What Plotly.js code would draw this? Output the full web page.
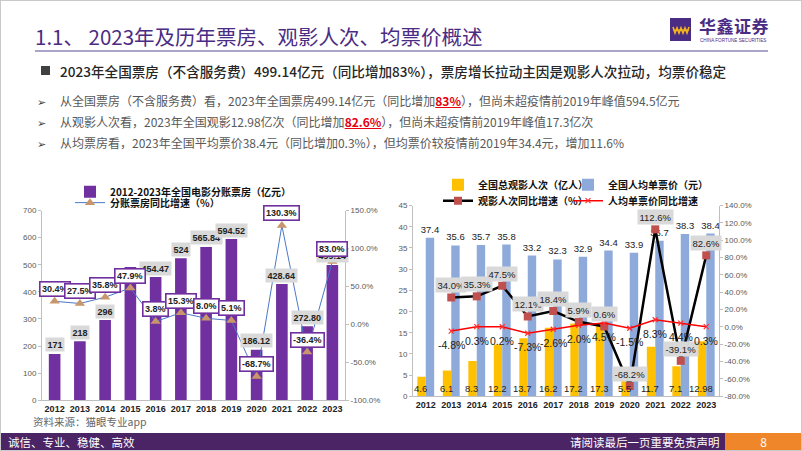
<!DOCTYPE html>
<html><head><meta charset="utf-8">
<script src="https://cdn.plot.ly/plotly-3.0.1.min.js"></script>
<style>
html,body{margin:0;padding:0;background:#fff;}
#page{position:relative;width:802px;height:451px;overflow:hidden;font-family:"Noto Sans CJK SC","Noto Sans",sans-serif;background:#fff;}
.abs{position:absolute;white-space:nowrap;}
#frame{position:absolute;left:0;top:0;width:800px;height:449px;border:1px solid #c9c9c9;pointer-events:none;z-index:5;}
#title{left:35px;top:22px;font-size:20.5px;line-height:28px;color:#4b2c84;}
#rule{left:35px;top:50px;width:733px;height:2px;background:#aaa5c8;}
#logoBox{left:670px;top:18px;width:21px;height:23px;background:#4b2c84;}
#logoCn{left:699px;top:16px;font-size:17px;line-height:20px;color:#4b2c84;font-weight:700;letter-spacing:0.5px;}
#logoEn{left:700px;top:38px;font-size:4.6px;line-height:5px;color:#4b2c84;font-family:"Liberation Sans",sans-serif;}
#b0{left:41px;top:66px;width:9px;height:9px;background:#404040;}
#main{left:60px;top:60px;font-size:13.6px;line-height:22px;color:#262626;font-weight:500;}
.sub{left:37px;font-size:12px;line-height:18px;color:#595959;}
.sub .ar{display:inline-block;width:23px;color:#404040;font-size:11px;}
.red{color:#e60012;font-weight:700;text-decoration:underline;}
#plot{position:absolute;left:0;top:170px;width:802px;height:250px;}
#src{left:33px;top:414px;font-size:10.5px;line-height:16px;color:#666;}
#foot{left:0;top:433px;width:725px;height:18px;background:#4a2464;}
#footL{left:8px;top:433px;font-size:11.5px;line-height:18px;color:#fff;}
#footR{left:570px;top:433px;font-size:11.5px;line-height:18px;color:#fff;}
#footO{left:725px;top:433px;width:77px;height:18px;background:#f0862a;color:#fff;font-size:12px;line-height:18px;text-align:center;}
</style></head>
<body><div id="page">
<div id="frame"></div>
<div class="abs" id="title">1.1、 2023年及历年票房、观影人次、均票价概述</div>
<div class="abs" id="rule"></div>
<div class="abs" id="logoBox"><svg width="21" height="23" viewBox="0 0 21 23"><polyline points="3,9 5,15 7,10 9,15 11,10 13,15 15,10 17,15 19,9" fill="none" stroke="#f5b51a" stroke-width="1.6"/><line x1="3" y1="12" x2="19" y2="12" stroke="#f5b51a" stroke-width="1"/></svg></div>
<div class="abs" id="logoCn">华鑫证券</div>
<div class="abs" id="logoEn">CHINA FORTUNE SECURITIES</div>
<div class="abs" id="b0"></div>
<div class="abs" id="main">2023年全国票房（不含服务费）499.14亿元（同比增加83%），票房增长拉动主因是观影人次拉动，均票价稳定</div>
<div class="abs sub" style="top:92px"><span class="ar">➢</span>从全国票房（不含服务费）看，2023年全国票房499.14亿元（同比增加<span class="red">83%</span>），但尚未超疫情前2019年峰值594.5亿元</div>
<div class="abs sub" style="top:113px"><span class="ar">➢</span>从观影人次看，2023年全国观影12.98亿次（同比增加<span class="red">82.6%</span>），但尚未超疫情前2019年峰值17.3亿次</div>
<div class="abs sub" style="top:134px"><span class="ar">➢</span>从均票房看，2023年全国平均票价38.4元（同比增加0.3%），但均票价较疫情前2019年34.4元，增加11.6%</div>
<div id="plot"></div>
<div class="abs" id="src">资料来源：猫眼专业app</div>
<div class="abs" id="foot"></div>
<div class="abs" id="footL">诚信、专业、稳健、高效</div>
<div class="abs" id="footR">请阅读最后一页重要免责声明</div>
<div class="abs" id="footO">8</div>
</div>
<script>
// ---------------- data ----------------
const years = ['2012','2013','2014','2015','2016','2017','2018','2019','2020','2021','2022','2023'];
// left chart
const boxOffice = [171, 218, 296, 492, 454.47, 524, 565.84, 594.52, 186.12, 428.64, 272.80, 499.14];
const boxOfficeLabels = ['171','218','296','','454.47','524','565.84','594.52','186.12','428.64','272.80','499.14'];
const boxOfficeYoY = [30.4, 27.5, 35.8, 47.9, 3.8, 15.3, 8.0, 5.1, -68.7, 130.3, -36.4, 83.0];
// right chart
const audience = [4.6, 6.1, 8.3, 12.2, 13.7, 16.2, 17.2, 17.3, 5.5, 11.7, 7.1, 12.98];
const audienceLabels = ['4.6','6.1','8.3','12.2','13.7','16.2','17.2','17.3','5.5','11.7','7.1','12.98'];
const avgPrice = [37.4, 35.6, 35.7, 35.8, 33.2, 32.3, 32.9, 34.4, 33.9, 36.7, 38.3, 38.4];
const audienceYoY = [null, 34.0, 35.3, 47.5, 12.1, 18.4, 5.9, 0.6, -68.2, 112.6, -39.1, 82.6];
const priceYoY = [null, -4.8, 0.3, 0.2, -7.3, -2.6, 2.0, 4.5, -1.5, 8.3, 4.4, 0.3];
const leftTicksL = [0,100,200,300,400,500,600,700];
const leftTicksR = [-100,-50,0,50,100,150];
const rightTicksL = [0,5,10,15,20,25,30,35,40,45];
const rightTicksR = [-80,-60,-40,-20,0,20,40,60,80,100,120,140];

// ---------------- styles ----------------
const CJK = '"Noto Sans CJK SC", "Noto Sans", sans-serif';
const LAT = '"Liberation Sans", Arial, sans-serif';
const pct = v => v.toFixed(1) + '%';

const traces = [
  {type:'bar', name:'2012-2023年全国电影分账票房（亿元）', x:years, y:boxOffice, xaxis:'x', yaxis:'y',
   marker:{color:'#7030a0'}, width:0.46, legend:'legend'},
  {type:'scatter', mode:'lines+markers', name:'分账票房同比增速（%）', x:years, y:boxOfficeYoY, xaxis:'x', yaxis:'y2',
   line:{color:'#4a78c8', width:1}, marker:{symbol:'triangle-up', size:9, color:'#c8966a'}, legend:'legend2', cliponaxis:false},
  {type:'bar', name:'全国总观影人次（亿人）', x:years, y:audience, xaxis:'x2', yaxis:'y3',
   marker:{color:'#ffc000'}, width:0.33, offset:-0.33, legend:'legend3'},
  {type:'bar', name:'全国人均单票价（元）', x:years, y:avgPrice, xaxis:'x2', yaxis:'y3',
   marker:{color:'#8eaadb'}, width:0.33, offset:0, legend:'legend4',
   text:avgPrice.map(v=>v.toFixed(1)), textposition:'outside', constraintext:'none', cliponaxis:false,
   textfont:{family:LAT, size:9.5, color:'#222'}},
  {type:'scatter', mode:'lines+markers', name:'观影人次同比增速（%）', x:years, y:audienceYoY, xaxis:'x2', yaxis:'y4',
   line:{color:'#000', width:2.5}, marker:{symbol:'square', size:8, color:'#c0504d'}, legend:'legend5', cliponaxis:false},
  {type:'scatter', mode:'lines+markers', name:'人均单票价同比增速', x:years, y:priceYoY, xaxis:'x2', yaxis:'y4',
   line:{color:'#ff0000', width:1.5}, marker:{symbol:'x-thin', size:5, line:{color:'#ff3030', width:1.2}, color:'#ff3030'}, legend:'legend6', cliponaxis:false}
];

// annotations: x given as category index (numeric) on category axes
const ann = [];
boxOffice.forEach((v,i)=>{ if(boxOfficeLabels[i]) ann.push({xref:'x', yref:'y', x:i, y:v, yshift:9, text:boxOfficeLabels[i], showarrow:false,
  bgcolor:'#d9d9d9', borderpad:1.5, font:{family:LAT, size:9, color:'#222', weight:'bold'}}); });
boxOfficeYoY.forEach((v,i)=>{ ann.push({xref:'x', yref:'y2', x:i, y:v, yshift:12, text:pct(v), showarrow:false,
  bgcolor:'#fff', bordercolor:'#7030a0', borderwidth:1.6, borderpad:1.5, font:{family:LAT, size:9, color:'#222', weight:'bold'}}); });
audience.forEach((v,i)=>{ ann.push({xref:'x2', yref:'y3', x:i, y:0, xshift:-5, yshift:8, text:audienceLabels[i], showarrow:false,
  font:{family:LAT, size:9.5, color:'#222'}}); });
audienceYoY.forEach((v,i)=>{ if(v!==null) ann.push({xref:'x2', yref:'y4', x:i, y:v, yshift:12, text:pct(v), showarrow:false,
  bgcolor:'#d9d9d9', borderpad:1.5, font:{family:LAT, size:9.5, color:'#222'}}); });
priceYoY.forEach((v,i)=>{ if(v!==null) ann.push({xref:'x2', yref:'y4', x:i, y:v, yshift:-14, text:pct(v), showarrow:false,
  font:{family:LAT, size:10.5, color:'#222'}}); });

const axBase = {showgrid:false, zeroline:false, showline:true, linecolor:'#bfbfbf', linewidth:1, fixedrange:true};
const yTickFont = {family:LAT, size:8, color:'#595959'};
const xTickFont = {family:LAT, size:9, color:'#222', weight:'bold'};
const legFont = {family:CJK, size:10, color:'#111', weight:'bold'};
const legBase = {font:legFont, bgcolor:'rgba(0,0,0,0)', xanchor:'left', yanchor:'middle', orientation:'h', borderwidth:0};
const H = 250, yp = px => (420 - px)/H, xp = px => px/802;

const layout = {
  width:802, height:250, margin:{l:0,r:0,t:0,b:0}, paper_bgcolor:'rgba(0,0,0,0)', plot_bgcolor:'rgba(0,0,0,0)',
  barmode:'overlay', showlegend:true, hovermode:false,
  xaxis: Object.assign({}, axBase, {domain:[xp(42), xp(345)], anchor:'y', type:'category', range:[-0.5,11.5], tickfont:xTickFont, ticks:''}),
  yaxis: Object.assign({}, axBase, {domain:[yp(400), yp(208)], anchor:'x', range:[0,700], tickvals:leftTicksL, tickfont:yTickFont, ticks:'outside', ticklen:3, tickcolor:'#bfbfbf'}),
  yaxis2: Object.assign({}, axBase, {overlaying:'y', side:'right', anchor:'x', range:[-100,150], tickvals:leftTicksR, ticktext:leftTicksR.map(pct), tickfont:yTickFont, ticks:'outside', ticklen:3, tickcolor:'#bfbfbf'}),
  xaxis2: Object.assign({}, axBase, {domain:[xp(413), xp(719)], anchor:'y3', type:'category', range:[-0.5,11.5], tickfont:xTickFont, ticks:''}),
  yaxis3: Object.assign({}, axBase, {domain:[yp(396), yp(203)], anchor:'x2', range:[0,45], tickvals:rightTicksL, tickfont:yTickFont, ticks:'outside', ticklen:3, tickcolor:'#bfbfbf'}),
  yaxis4: Object.assign({}, axBase, {overlaying:'y3', side:'right', anchor:'x2', range:[-80,140], tickvals:rightTicksR, ticktext:rightTicksR.map(pct), tickfont:yTickFont, ticks:'outside', ticklen:3, tickcolor:'#bfbfbf'}),
  legend: Object.assign({}, legBase, {x:xp(70), y:yp(189)}),
  legend2: Object.assign({}, legBase, {x:xp(70), y:yp(200)}),
  legend3: Object.assign({}, legBase, {x:xp(438), y:yp(182)}),
  legend4: Object.assign({}, legBase, {x:xp(568), y:yp(182)}),
  legend5: Object.assign({}, legBase, {x:xp(438), y:yp(198)}),
  legend6: Object.assign({}, legBase, {x:xp(568), y:yp(198)}),
  annotations: ann
};
Plotly.newPlot('plot', traces, layout, {staticPlot:true, displayModeBar:false});
</script>
</body></html>
